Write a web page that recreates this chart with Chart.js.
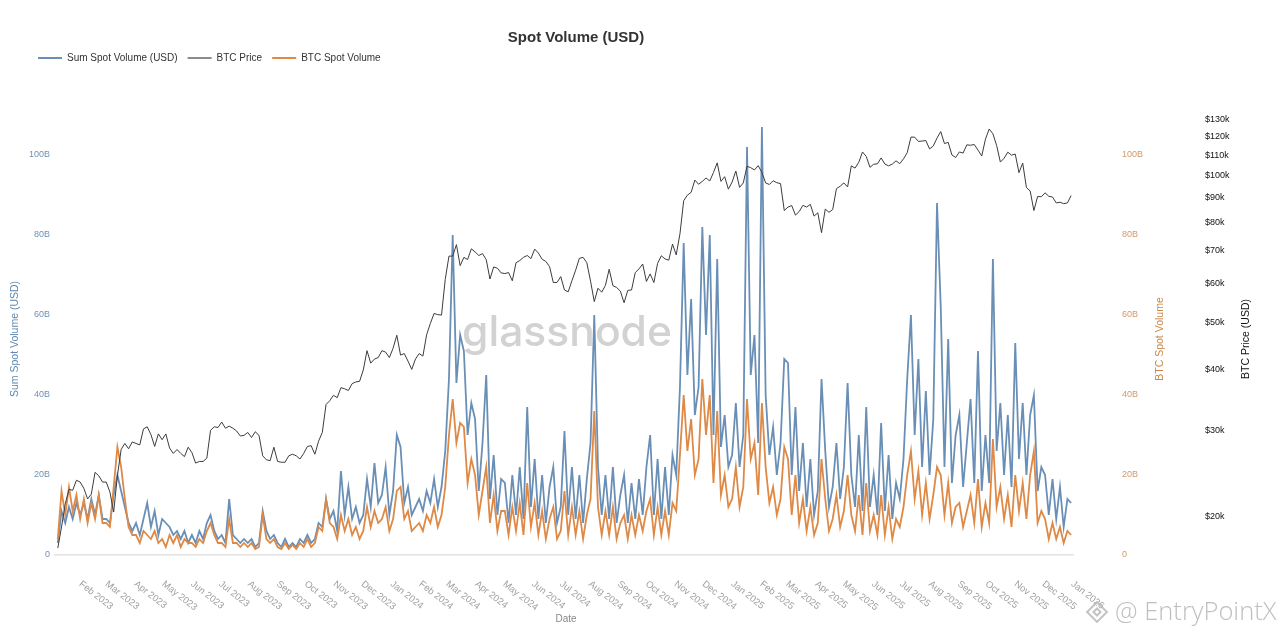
<!DOCTYPE html>
<html><head><meta charset="utf-8">
<script src="https://cdn.jsdelivr.net/npm/chart.js@4.4.1/dist/chart.umd.min.js"></script>
<style>html,body{margin:0;padding:0;background:#fff;}</style>
</head><body>
<canvas id="c" width="1280" height="640"></canvas>
<script>
// ---------- DATA ----------
const firstDate = '2023-01-09';   // first sample
const stepDays = 4;               // one sample every 4 days
const monthLabels = ['Feb 2023','Mar 2023','Apr 2023','May 2023','Jun 2023','Jul 2023','Aug 2023','Sep 2023','Oct 2023','Nov 2023','Dec 2023',
  'Jan 2024','Feb 2024','Mar 2024','Apr 2024','May 2024','Jun 2024','Jul 2024','Aug 2024','Sep 2024','Oct 2024','Nov 2024','Dec 2024',
  'Jan 2025','Feb 2025','Mar 2025','Apr 2025','May 2025','Jun 2025','Jul 2025','Aug 2025','Sep 2025','Oct 2025','Nov 2025','Dec 2025','Jan 2026'];
const volumeTicksB = [0, 20, 40, 60, 80, 100];
const priceTicksK = [20, 30, 40, 50, 60, 70, 80, 90, 100, 110, 120, 130];

// Sum Spot Volume (USD), billions
const sumSpotVolumeB = [
  3, 11, 8, 12, 9, 13,
  10, 13, 9, 14, 10, 15, 9,
  9, 8, 15, 20, 16, 12, 8, 6,
  8, 5, 9, 13, 7, 11, 5,
  9, 8, 7, 5, 6, 4, 6, 3,
  5, 3, 6, 4, 8, 10, 6, 4,
  5, 3, 14, 5, 4, 3, 4,
  3, 4, 2, 3, 11, 6, 4, 5,
  3, 2, 4, 2, 3, 2, 4, 3,
  5, 3, 4, 8, 7, 14, 9,
  11, 6, 21, 10, 17, 9, 12, 8,
  10, 19, 12, 23, 13, 15, 22, 10,
  16, 30, 27, 13, 17, 10, 12,
  14, 11, 16, 13, 19, 12, 17, 26,
  44, 80, 43, 55, 51, 30, 38,
  34, 16, 28, 45, 14, 25, 10, 19,
  18, 8, 20, 10, 22, 9, 37, 12,
  24, 9, 20, 8, 17, 22, 8,
  12, 31, 10, 22, 9, 20, 8, 19,
  28, 60, 22, 10, 20, 9, 22, 8,
  15, 20, 8, 18, 9, 19, 10,
  22, 30, 10, 24, 9, 22, 10, 25,
  20, 42, 78, 45, 64, 35, 42,
  82, 55, 80, 30, 74, 27, 35, 22,
  25, 38, 22, 30, 102, 45, 55, 28,
  107, 40, 25, 32, 20, 28, 49,
  48, 20, 37, 16, 28, 12, 24, 10,
  16, 44, 26, 12, 17, 28, 14,
  22, 43, 20, 12, 30, 11, 37, 12,
  20, 10, 33, 11, 25, 9, 18,
  14, 24, 44, 60, 30, 49, 22, 41,
  20, 34, 88, 62, 22, 54, 18, 30,
  35, 17, 28, 39, 18, 51, 16,
  30, 18, 74, 26, 38, 20, 35, 17,
  53, 24, 38, 20, 35, 40, 16, 22,
  20, 10, 19, 9, 17, 7, 14,
  13
];

// BTC Spot Volume, billions
const btcSpotVolumeB = [
  4, 16, 10, 17, 11, 15,
  9, 14, 8, 13, 9, 15, 8,
  8, 7, 17, 27, 22, 14, 7, 5,
  5, 3, 6, 5, 4, 6, 3,
  4, 2, 5, 3, 5, 2, 4, 3,
  3, 2, 4, 3, 6, 8, 5, 3,
  3, 2, 9, 3, 3, 2, 3,
  2, 3, 1.5, 2, 10, 4, 3, 4,
  2, 1.5, 3, 1.5, 2.5, 1.5, 3, 2,
  4, 2, 3, 7, 6, 14, 8,
  7, 4, 10, 6, 9, 5, 7, 4,
  6, 12, 7, 11, 8, 9, 12, 6,
  9, 16, 17, 9, 11, 6, 7,
  8, 6, 10, 8, 12, 7, 10, 17,
  30, 39, 28, 33, 32, 18, 24,
  20, 10, 16, 22, 8, 15, 6, 11,
  11, 5, 12, 6, 13, 5, 18, 7,
  13, 5, 11, 4, 9, 12, 4,
  6, 16, 5, 12, 5, 11, 4, 10,
  14, 36, 12, 5, 11, 5, 12, 4,
  8, 10, 4, 10, 5, 10, 6,
  11, 14, 5, 12, 5, 11, 5, 13,
  11, 25, 40, 26, 34, 20, 24,
  44, 30, 40, 18, 36, 15, 20, 12,
  14, 22, 12, 17, 39, 24, 28, 15,
  38, 22, 13, 17, 10, 14, 27,
  24, 10, 20, 8, 14, 6, 12, 5,
  8, 24, 14, 6, 9, 15, 7,
  11, 20, 10, 6, 15, 5, 18, 6,
  10, 5, 15, 5, 12, 4, 9,
  7, 12, 20, 26, 14, 21, 10, 18,
  9, 15, 22, 20, 10, 18, 8, 12,
  13, 7, 11, 15, 8, 19, 7,
  13, 8, 29, 12, 17, 9, 15, 7,
  20, 11, 18, 9, 20, 26, 8, 11,
  9, 4, 8, 4, 7, 3, 6,
  5
];

// BTC Price, thousands USD
const btcPriceK = [
  17.2, 19.0, 21.2, 22.7, 22.6, 23.7,
  23.5, 22.8, 21.7, 22.2, 24.6, 24.2, 23.5,
  23.5, 22.4, 20.4, 24.2, 27.4, 28.2, 27.5, 28.4,
  28.2, 28.0, 30.2, 30.5, 29.4, 27.8, 29.5,
  28.7, 29.5, 27.6, 26.9, 27.4, 26.9, 26.5, 27.7,
  27.0, 25.7, 25.9, 25.9, 26.3, 30.0, 30.5, 30.4,
  31.2, 30.3, 30.6, 30.3, 29.9, 29.2, 29.3,
  29.7, 29.0, 29.8, 29.3, 26.6, 26.1, 26.0, 27.7,
  25.9, 25.8, 25.8, 26.6, 26.8, 26.6, 26.2, 26.9,
  27.8, 27.9, 26.8, 28.5, 29.7, 33.9, 34.5,
  35.4, 35.0, 36.7, 36.5, 36.2, 37.4, 37.7, 37.8,
  39.9, 43.7, 41.2, 42.0, 42.3, 43.7, 43.4, 42.3,
  44.2, 47.0, 42.8, 43.1, 41.6, 40.0, 42.0,
  43.1, 42.6, 47.1, 49.7, 52.1, 51.8, 51.7, 61.2,
  68.3, 68.3, 72.1, 65.3, 67.9, 67.2, 70.7,
  69.7, 68.5, 69.1, 67.2, 61.3, 64.9, 64.5, 63.1,
  62.9, 63.2, 60.8, 66.2, 66.9, 67.9, 68.5, 67.5,
  70.6, 69.3, 67.3, 66.6, 65.0, 60.3, 60.3,
  62.0, 58.2, 57.7, 60.8, 63.9, 67.6, 67.9, 66.2,
  60.7, 55.1, 58.7, 57.6, 59.5, 64.2, 59.4, 58.9,
  57.9, 54.8, 58.1, 58.2, 63.2, 64.3, 65.8,
  60.6, 62.8, 60.3, 66.0, 68.4, 67.4, 67.0, 72.3,
  68.7, 75.9, 88.7, 91.1, 92.3, 97.8, 95.9,
  97.2, 98.8, 97.4, 101.4, 106.1, 97.2, 99.4, 93.7,
  96.9, 102.1, 94.5, 96.5, 104.4, 103.7, 102.6, 104.7,
  101.4, 96.5, 95.8, 97.5, 96.6, 96.2, 84.7,
  86.1, 86.7, 82.9, 84.3, 86.8, 86.1, 87.2, 82.5,
  83.8, 76.3, 85.3, 84.0, 85.1, 93.9, 95.0,
  96.5, 94.7, 104.6, 103.5, 106.4, 111.7, 109.4, 103.9,
  105.4, 105.6, 108.6, 105.5, 104.6, 105.5, 107.1,
  105.7, 108.1, 111.3, 119.8, 119.8, 117.4, 117.6, 117.9,
  113.3, 114.9, 119.3, 123.0, 116.2, 116.9, 110.1, 108.8,
  111.7, 111.1, 115.5, 115.3, 115.7, 112.7, 109.6,
  118.6, 124.5, 121.7, 115.2, 106.5, 108.4, 111.6, 110.0,
  110.6, 101.3, 106.0, 94.4, 92.9, 84.7, 90.5, 90.4,
  92.1, 90.6, 90.3, 87.8, 88.1, 87.5, 87.8,
  90.9
];

// ---------- HELPERS ----------
const MON = ['Jan','Feb','Mar','Apr','May','Jun','Jul','Aug','Sep','Oct','Nov','Dec'];
const ORIGIN = Date.UTC(2023, 0, 1);
const DAY = 86400000;
function dayOf(iso){ const [y,m,d] = iso.split('-').map(Number); return (Date.UTC(y, m-1, d) - ORIGIN) / DAY; }
function monthDay(label){ const [m,y] = label.split(' '); return (Date.UTC(+y, MON.indexOf(m), 1) - ORIGIN) / DAY; }
const d0 = dayOf(firstDate);
const toPts = (arr, mult) => arr.map((v, i) => ({x: d0 + i * stepDays, y: v * mult}));

const BLUE = '#6a8fb6', ORANGE = '#de8946', PRICE = '#3c3c3c';
const FONT = '"Liberation Sans", Arial, sans-serif';

const decor = {
  id: 'decor',
  beforeDatasetsDraw(chart){
    const c = chart.ctx; c.save();
    let fs = 46; c.font = `500 ${fs}px Inter, ${FONT}`;
    const w = c.measureText('glassnode').width; fs = fs * 210 / w;
    c.font = `500 ${fs}px Inter, ${FONT}`;
    c.fillStyle = 'rgba(165,165,165,0.5)'; c.textAlign = 'center'; c.textBaseline = 'alphabetic';
    c.fillText('glassnode', 567, 346);
    c.restore();
  },
  afterDraw(chart){
    const c = chart.ctx; c.save();
    // title
    c.fillStyle = '#333'; c.font = `bold 15px ${FONT}`; c.textAlign = 'center'; c.textBaseline = 'middle';
    c.fillText('Spot Volume (USD)', 576, 38);
    // legend
    const items = [['Sum Spot Volume (USD)', BLUE], ['BTC Price', '#8c8c8c'], ['BTC Spot Volume', ORANGE]];
    let x = 38; c.font = `10px ${FONT}`; c.textAlign = 'left';
    items.forEach(([t, col]) => {
      c.strokeStyle = col; c.lineWidth = 2; c.beginPath(); c.moveTo(x, 58); c.lineTo(x + 24, 58); c.stroke();
      c.fillStyle = '#333'; c.fillText(t, x + 29, 58.5);
      x += 29 + c.measureText(t).width + 10;
    });
    // axis titles
    const vt = (t, px, py, col) => { c.save(); c.translate(px, py); c.rotate(-Math.PI/2); c.fillStyle = col; c.textAlign = 'center'; c.textBaseline = 'middle'; c.fillText(t, 0, 0); c.restore(); };
    c.font = `10.5px ${FONT}`;
    vt('Sum Spot Volume (USD)', 15, 339, '#5f87ae');
    vt('BTC Spot Volume', 1160, 339, '#c98647');
    vt('BTC Price (USD)', 1246, 339, '#111');
    // x tick labels (rotated)
    const xs = chart.scales.x;
    c.font = `9.5px ${FONT}`; c.fillStyle = '#a0a0a0'; c.textAlign = 'left'; c.textBaseline = 'middle';
    monthLabels.forEach(l => {
      const px = xs.getPixelForValue(monthDay(l));
      c.save(); c.translate(px + 1, 583); c.rotate(38 * Math.PI / 180); c.fillText(l, 0, 0); c.restore();
    });
    c.font = `10px ${FONT}`; c.fillStyle = '#888'; c.textAlign = 'center';
    c.fillText('Date', 566, 619);
    // EntryPointX watermark
    c.strokeStyle = 'rgba(185,185,185,0.85)'; c.lineWidth = 2;
    c.save(); c.translate(1097, 612); c.rotate(Math.PI/4);
    c.strokeRect(-7, -7, 14, 14); c.strokeRect(-2.5, -2.5, 5, 5); c.restore();
    c.font = `300 25.5px "Open Sans", ${FONT}`; c.fillStyle = 'rgba(180,180,180,0.85)'; c.textAlign = 'left';
    c.fillText('@ EntryPointX', 1115, 613);
    c.restore();
  }
};

new Chart(document.getElementById('c'), {
  type: 'line',
  data: { datasets: [
    { label: 'Sum Spot Volume (USD)', data: toPts(sumSpotVolumeB, 1e9), yAxisID: 'yVol', borderColor: BLUE, borderWidth: 1.8, pointRadius: 0, tension: 0, order: 3 },
    { label: 'BTC Price', data: toPts(btcPriceK, 1e3), yAxisID: 'yPrice', borderColor: PRICE, borderWidth: 1, pointRadius: 0, tension: 0, order: 1 },
    { label: 'BTC Spot Volume', data: toPts(btcSpotVolumeB, 1e9), yAxisID: 'yBtc', borderColor: ORANGE, borderWidth: 1.8, pointRadius: 0, tension: 0, order: 2 }
  ]},
  options: {
    responsive: false, animation: false, devicePixelRatio: 1,
    layout: { padding: { top: 115, left: 0, right: 0, bottom: 0 } },
    plugins: { legend: { display: false }, title: { display: false }, tooltip: { enabled: false } },
    scales: {
      x: { type: 'linear', min: 5, max: 1098,
        grid: { display: false, drawTicks: false }, border: { color: '#e2e2e2', width: 1.5 },
        ticks: { display: false }, afterFit(s){ s.height = 85; } },
      yVol: { position: 'left', min: 0, max: 110e9,
        afterBuildTicks(s){ s.ticks = volumeTicksB.map(v => ({ value: v * 1e9 })); },
        grid: { display: false, drawTicks: false }, border: { display: false },
        ticks: { color: '#6f92b5', font: { size: 9, family: FONT }, padding: 5, autoSkip: false,
          callback: v => v === 0 ? '0' : (v / 1e9) + 'B' },
        afterFit(s){ s.width = 55; } },
      yBtc: { position: 'right', weight: 0, min: 0, max: 110e9,
        afterBuildTicks(s){ s.ticks = volumeTicksB.map(v => ({ value: v * 1e9 })); },
        grid: { display: false, drawTicks: false }, border: { display: false },
        ticks: { color: '#cf9a6a', font: { size: 9, family: FONT }, padding: 49, autoSkip: false,
          callback: v => v === 0 ? '0' : (v / 1e9) + 'B' },
        afterFit(s){ s.width = 117; } },
      yPrice: { position: 'right', weight: 1, type: 'logarithmic', min: 16650, max: 133000,
        afterBuildTicks(s){ s.ticks = priceTicksK.map(v => ({ value: v * 1e3 })); },
        grid: { display: false, drawTicks: false }, border: { display: false },
        ticks: { color: '#111', font: { size: 9, family: FONT }, padding: 15, autoSkip: false,
          callback: v => '$' + (v / 1e3) + 'k' },
        afterFit(s){ s.width = 90; } }
    }
  },
  plugins: [decor]
});
</script>
</body></html>
